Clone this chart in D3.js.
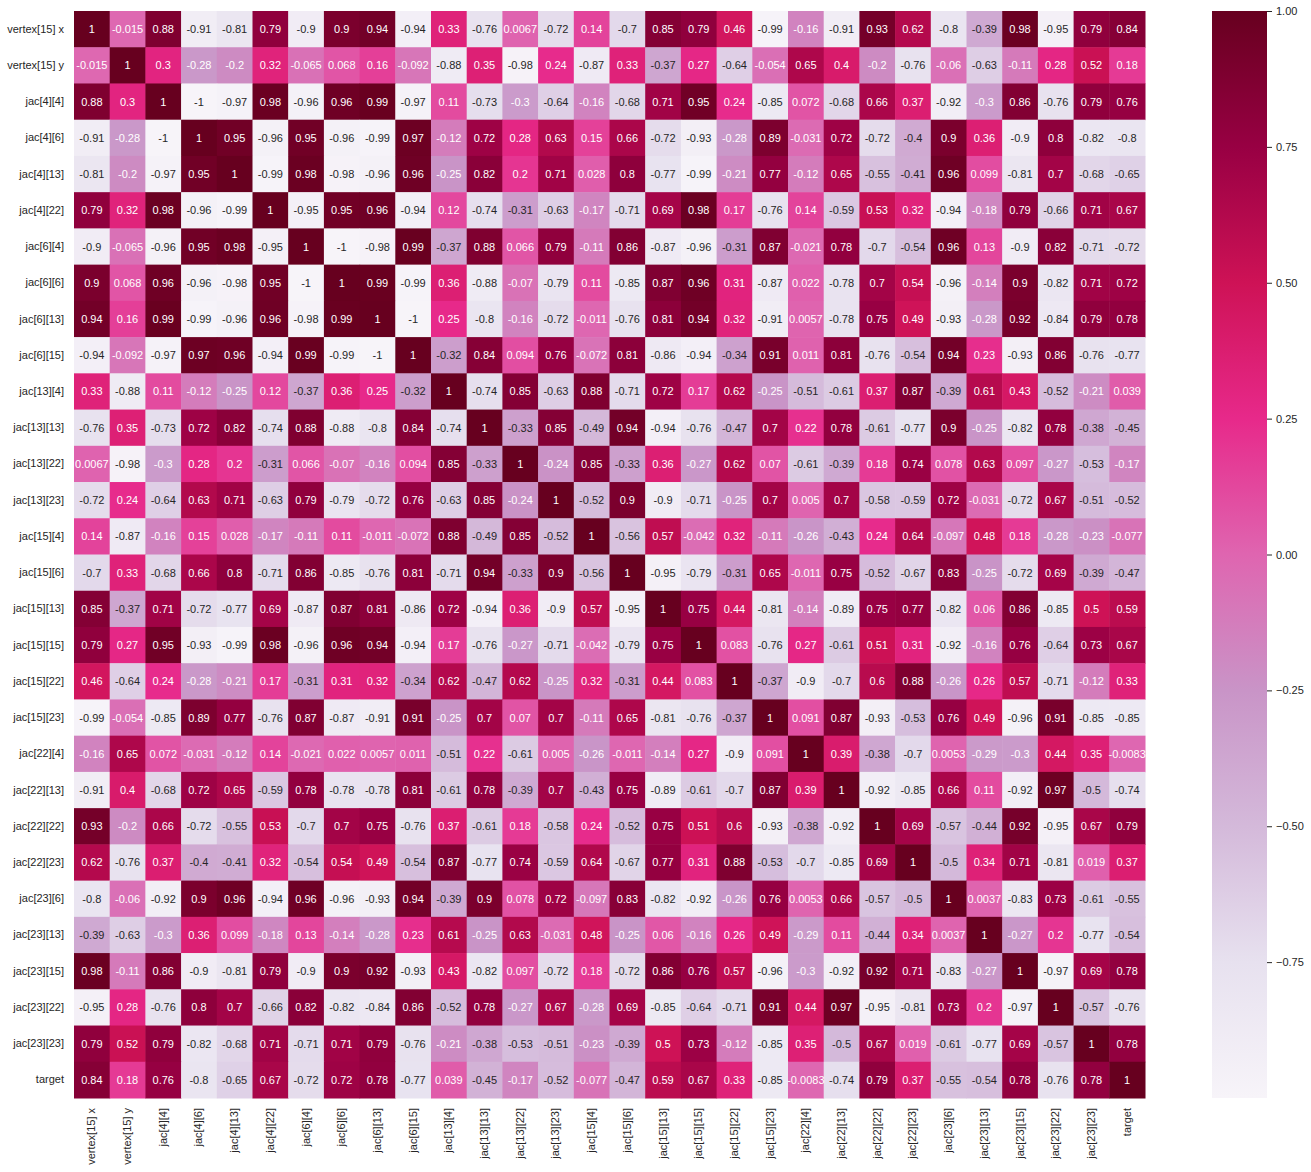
<!DOCTYPE html>
<html>
<head>
<meta charset="utf-8">
<script src="https://cdn.jsdelivr.net/npm/d3@7"></script>
<style>
  html, body { margin: 0; padding: 0; background: #fff; }
  svg { display: block; }
  text { font-family: "Liberation Sans", Arial, sans-serif; }
</style>
</head>
<body>
<svg id="chart" width="1311" height="1172"></svg>
<script>
const labels = ["vertex[15] x","vertex[15] y","jac[4][4]","jac[4][6]","jac[4][13]","jac[4][22]","jac[6][4]","jac[6][6]","jac[6][13]","jac[6][15]","jac[13][4]","jac[13][13]","jac[13][22]","jac[13][23]","jac[15][4]","jac[15][6]","jac[15][13]","jac[15][15]","jac[15][22]","jac[15][23]","jac[22][4]","jac[22][13]","jac[22][22]","jac[22][23]","jac[23][6]","jac[23][13]","jac[23][15]","jac[23][22]","jac[23][23]","target"];

const corr = [
[1,-0.015,0.88,-0.91,-0.81,0.79,-0.9,0.9,0.94,-0.94,0.33,-0.76,0.0067,-0.72,0.14,-0.7,0.85,0.79,0.46,-0.99,-0.16,-0.91,0.93,0.62,-0.8,-0.39,0.98,-0.95,0.79,0.84],
[-0.015,1,0.3,-0.28,-0.2,0.32,-0.065,0.068,0.16,-0.092,-0.88,0.35,-0.98,0.24,-0.87,0.33,-0.37,0.27,-0.64,-0.054,0.65,0.4,-0.2,-0.76,-0.06,-0.63,-0.11,0.28,0.52,0.18],
[0.88,0.3,1,-1,-0.97,0.98,-0.96,0.96,0.99,-0.97,0.11,-0.73,-0.3,-0.64,-0.16,-0.68,0.71,0.95,0.24,-0.85,0.072,-0.68,0.66,0.37,-0.92,-0.3,0.86,-0.76,0.79,0.76],
[-0.91,-0.28,-1,1,0.95,-0.96,0.95,-0.96,-0.99,0.97,-0.12,0.72,0.28,0.63,0.15,0.66,-0.72,-0.93,-0.28,0.89,-0.031,0.72,-0.72,-0.4,0.9,0.36,-0.9,0.8,-0.82,-0.8],
[-0.81,-0.2,-0.97,0.95,1,-0.99,0.98,-0.98,-0.96,0.96,-0.25,0.82,0.2,0.71,0.028,0.8,-0.77,-0.99,-0.21,0.77,-0.12,0.65,-0.55,-0.41,0.96,0.099,-0.81,0.7,-0.68,-0.65],
[0.79,0.32,0.98,-0.96,-0.99,1,-0.95,0.95,0.96,-0.94,0.12,-0.74,-0.31,-0.63,-0.17,-0.71,0.69,0.98,0.17,-0.76,0.14,-0.59,0.53,0.32,-0.94,-0.18,0.79,-0.66,0.71,0.67],
[-0.9,-0.065,-0.96,0.95,0.98,-0.95,1,-1,-0.98,0.99,-0.37,0.88,0.066,0.79,-0.11,0.86,-0.87,-0.96,-0.31,0.87,-0.021,0.78,-0.7,-0.54,0.96,0.13,-0.9,0.82,-0.71,-0.72],
[0.9,0.068,0.96,-0.96,-0.98,0.95,-1,1,0.99,-0.99,0.36,-0.88,-0.07,-0.79,0.11,-0.85,0.87,0.96,0.31,-0.87,0.022,-0.78,0.7,0.54,-0.96,-0.14,0.9,-0.82,0.71,0.72],
[0.94,0.16,0.99,-0.99,-0.96,0.96,-0.98,0.99,1,-1,0.25,-0.8,-0.16,-0.72,-0.011,-0.76,0.81,0.94,0.32,-0.91,0.0057,-0.78,0.75,0.49,-0.93,-0.28,0.92,-0.84,0.79,0.78],
[-0.94,-0.092,-0.97,0.97,0.96,-0.94,0.99,-0.99,-1,1,-0.32,0.84,0.094,0.76,-0.072,0.81,-0.86,-0.94,-0.34,0.91,0.011,0.81,-0.76,-0.54,0.94,0.23,-0.93,0.86,-0.76,-0.77],
[0.33,-0.88,0.11,-0.12,-0.25,0.12,-0.37,0.36,0.25,-0.32,1,-0.74,0.85,-0.63,0.88,-0.71,0.72,0.17,0.62,-0.25,-0.51,-0.61,0.37,0.87,-0.39,0.61,0.43,-0.52,-0.21,0.039],
[-0.76,0.35,-0.73,0.72,0.82,-0.74,0.88,-0.88,-0.8,0.84,-0.74,1,-0.33,0.85,-0.49,0.94,-0.94,-0.76,-0.47,0.7,0.22,0.78,-0.61,-0.77,0.9,-0.25,-0.82,0.78,-0.38,-0.45],
[0.0067,-0.98,-0.3,0.28,0.2,-0.31,0.066,-0.07,-0.16,0.094,0.85,-0.33,1,-0.24,0.85,-0.33,0.36,-0.27,0.62,0.07,-0.61,-0.39,0.18,0.74,0.078,0.63,0.097,-0.27,-0.53,-0.17],
[-0.72,0.24,-0.64,0.63,0.71,-0.63,0.79,-0.79,-0.72,0.76,-0.63,0.85,-0.24,1,-0.52,0.9,-0.9,-0.71,-0.25,0.7,0.005,0.7,-0.58,-0.59,0.72,-0.031,-0.72,0.67,-0.51,-0.52],
[0.14,-0.87,-0.16,0.15,0.028,-0.17,-0.11,0.11,-0.011,-0.072,0.88,-0.49,0.85,-0.52,1,-0.56,0.57,-0.042,0.32,-0.11,-0.26,-0.43,0.24,0.64,-0.097,0.48,0.18,-0.28,-0.23,-0.077],
[-0.7,0.33,-0.68,0.66,0.8,-0.71,0.86,-0.85,-0.76,0.81,-0.71,0.94,-0.33,0.9,-0.56,1,-0.95,-0.79,-0.31,0.65,-0.011,0.75,-0.52,-0.67,0.83,-0.25,-0.72,0.69,-0.39,-0.47],
[0.85,-0.37,0.71,-0.72,-0.77,0.69,-0.87,0.87,0.81,-0.86,0.72,-0.94,0.36,-0.9,0.57,-0.95,1,0.75,0.44,-0.81,-0.14,-0.89,0.75,0.77,-0.82,0.06,0.86,-0.85,0.5,0.59],
[0.79,0.27,0.95,-0.93,-0.99,0.98,-0.96,0.96,0.94,-0.94,0.17,-0.76,-0.27,-0.71,-0.042,-0.79,0.75,1,0.083,-0.76,0.27,-0.61,0.51,0.31,-0.92,-0.16,0.76,-0.64,0.73,0.67],
[0.46,-0.64,0.24,-0.28,-0.21,0.17,-0.31,0.31,0.32,-0.34,0.62,-0.47,0.62,-0.25,0.32,-0.31,0.44,0.083,1,-0.37,-0.9,-0.7,0.6,0.88,-0.26,0.26,0.57,-0.71,-0.12,0.33],
[-0.99,-0.054,-0.85,0.89,0.77,-0.76,0.87,-0.87,-0.91,0.91,-0.25,0.7,0.07,0.7,-0.11,0.65,-0.81,-0.76,-0.37,1,0.091,0.87,-0.93,-0.53,0.76,0.49,-0.96,0.91,-0.85,-0.85],
[-0.16,0.65,0.072,-0.031,-0.12,0.14,-0.021,0.022,0.0057,0.011,-0.51,0.22,-0.61,0.005,-0.26,-0.011,-0.14,0.27,-0.9,0.091,1,0.39,-0.38,-0.7,0.0053,-0.29,-0.3,0.44,0.35,-0.0083],
[-0.91,0.4,-0.68,0.72,0.65,-0.59,0.78,-0.78,-0.78,0.81,-0.61,0.78,-0.39,0.7,-0.43,0.75,-0.89,-0.61,-0.7,0.87,0.39,1,-0.92,-0.85,0.66,0.11,-0.92,0.97,-0.5,-0.74],
[0.93,-0.2,0.66,-0.72,-0.55,0.53,-0.7,0.7,0.75,-0.76,0.37,-0.61,0.18,-0.58,0.24,-0.52,0.75,0.51,0.6,-0.93,-0.38,-0.92,1,0.69,-0.57,-0.44,0.92,-0.95,0.67,0.79],
[0.62,-0.76,0.37,-0.4,-0.41,0.32,-0.54,0.54,0.49,-0.54,0.87,-0.77,0.74,-0.59,0.64,-0.67,0.77,0.31,0.88,-0.53,-0.7,-0.85,0.69,1,-0.5,0.34,0.71,-0.81,0.019,0.37],
[-0.8,-0.06,-0.92,0.9,0.96,-0.94,0.96,-0.96,-0.93,0.94,-0.39,0.9,0.078,0.72,-0.097,0.83,-0.82,-0.92,-0.26,0.76,0.0053,0.66,-0.57,-0.5,1,0.0037,-0.83,0.73,-0.61,-0.55],
[-0.39,-0.63,-0.3,0.36,0.099,-0.18,0.13,-0.14,-0.28,0.23,0.61,-0.25,0.63,-0.031,0.48,-0.25,0.06,-0.16,0.26,0.49,-0.29,0.11,-0.44,0.34,0.0037,1,-0.27,0.2,-0.77,-0.54],
[0.98,-0.11,0.86,-0.9,-0.81,0.79,-0.9,0.9,0.92,-0.93,0.43,-0.82,0.097,-0.72,0.18,-0.72,0.86,0.76,0.57,-0.96,-0.3,-0.92,0.92,0.71,-0.83,-0.27,1,-0.97,0.69,0.78],
[-0.95,0.28,-0.76,0.8,0.7,-0.66,0.82,-0.82,-0.84,0.86,-0.52,0.78,-0.27,0.67,-0.28,0.69,-0.85,-0.64,-0.71,0.91,0.44,0.97,-0.95,-0.81,0.73,0.2,-0.97,1,-0.57,-0.76],
[0.79,0.52,0.79,-0.82,-0.68,0.71,-0.71,0.71,0.79,-0.76,-0.21,-0.38,-0.53,-0.51,-0.23,-0.39,0.5,0.73,-0.12,-0.85,0.35,-0.5,0.67,0.019,-0.61,-0.77,0.69,-0.57,1,0.78],
[0.84,0.18,0.76,-0.8,-0.65,0.67,-0.72,0.72,0.78,-0.77,0.039,-0.45,-0.17,-0.52,-0.077,-0.47,0.59,0.67,0.33,-0.85,-0.0083,-0.74,0.79,0.37,-0.55,-0.54,0.78,-0.76,0.78,1]
];

const colorbarTicks = [-0.75, -0.5, -0.25, 0, 0.25, 0.5, 0.75, 1.0];

// PuRd colormap (matplotlib linear segmented)
const puRd = ["#f7f4f9","#e7e1ef","#d4b9da","#c994c7","#df65b0","#e7298a","#ce1256","#980043","#67001f"];
const vmin = -1, vmax = 1;
const color = d3.scaleLinear()
  .domain(puRd.map((_, i) => vmin + (vmax - vmin) * i / (puRd.length - 1)))
  .range(puRd)
  .interpolate(d3.interpolateRgb)
  .clamp(true);

function relLum(c) {
  const rgb = d3.rgb(c);
  const f = v => { v /= 255; return v <= 0.03928 ? v / 12.92 : Math.pow((v + 0.055) / 1.055, 2.4); };
  return 0.2126 * f(rgb.r) + 0.7152 * f(rgb.g) + 0.0722 * f(rgb.b);
}

const svg = d3.select("#chart");
const gLeft = 74, gRight = 1145, gTop = 11, gBottom = 1098;
const x = d3.scaleBand().domain(labels).range([gLeft, gRight]).padding(0);
const y = d3.scaleBand().domain(labels).range([gTop, gBottom]).padding(0);

const cells = [];
corr.forEach((row, i) => row.forEach((v, j) => cells.push({ r: labels[i], c: labels[j], v })));

svg.append("g").selectAll("rect").data(cells).join("rect")
  .attr("x", d => x(d.c))
  .attr("y", d => y(d.r))
  .attr("width", x.bandwidth() + 0.5)
  .attr("height", y.bandwidth() + 0.5)
  .attr("fill", d => color(d.v));

svg.append("g").selectAll("text").data(cells).join("text")
  .attr("x", d => x(d.c) + x.bandwidth() / 2)
  .attr("y", d => y(d.r) + y.bandwidth() / 2)
  .attr("text-anchor", "middle")
  .attr("dominant-baseline", "central")
  .attr("font-size", 11)
  .attr("fill", d => relLum(color(d.v)) > 0.408 ? "#262626" : "#ffffff")
  .text(d => String(d.v));

// Y axis labels
const yAxis = d3.axisLeft(y).tickSize(0).tickPadding(10);
const gy = svg.append("g").attr("transform", `translate(${gLeft},0)`).call(yAxis);
gy.select(".domain").remove();
gy.selectAll("text").attr("font-size", 11).attr("fill", "#262626")
  .style("font-family", '"Liberation Sans", Arial, sans-serif');

// X axis labels (rotated)
const xAxis = d3.axisBottom(x).tickSize(0).tickPadding(10);
const gx = svg.append("g").attr("transform", `translate(0,${gBottom})`).call(xAxis);
gx.select(".domain").remove();
gx.selectAll("text")
  .attr("font-size", 11).attr("fill", "#262626")
  .style("font-family", '"Liberation Sans", Arial, sans-serif')
  .attr("transform", "rotate(-90)")
  .attr("text-anchor", "end")
  .attr("dy", "0.32em")
  .attr("x", -10)
  .attr("y", 0);

// Colorbar
const cbLeft = 1212, cbWidth = 55;
const cbScale = d3.scaleLinear().domain([vmin, vmax]).range([gBottom, gTop]);
const defs = svg.append("defs");
const grad = defs.append("linearGradient").attr("id", "cbgrad")
  .attr("x1", "0").attr("y1", "1").attr("x2", "0").attr("y2", "0");
puRd.forEach((c, i) => grad.append("stop").attr("offset", i / (puRd.length - 1)).attr("stop-color", c));
svg.append("rect")
  .attr("x", cbLeft).attr("y", gTop)
  .attr("width", cbWidth).attr("height", gBottom - gTop)
  .attr("fill", "url(#cbgrad)");
const cbAxis = d3.axisRight(cbScale).tickValues(colorbarTicks).tickFormat(d3.format(".2f")).tickSize(5).tickPadding(4);
const gcb = svg.append("g").attr("transform", `translate(${cbLeft + cbWidth},0)`).call(cbAxis);
gcb.select(".domain").remove();
gcb.selectAll("line").attr("stroke", "#262626").attr("stroke-width", 1);
gcb.selectAll("text").attr("font-size", 11).attr("fill", "#262626")
  .style("font-family", '"Liberation Sans", Arial, sans-serif');
</script>
</body>
</html>
